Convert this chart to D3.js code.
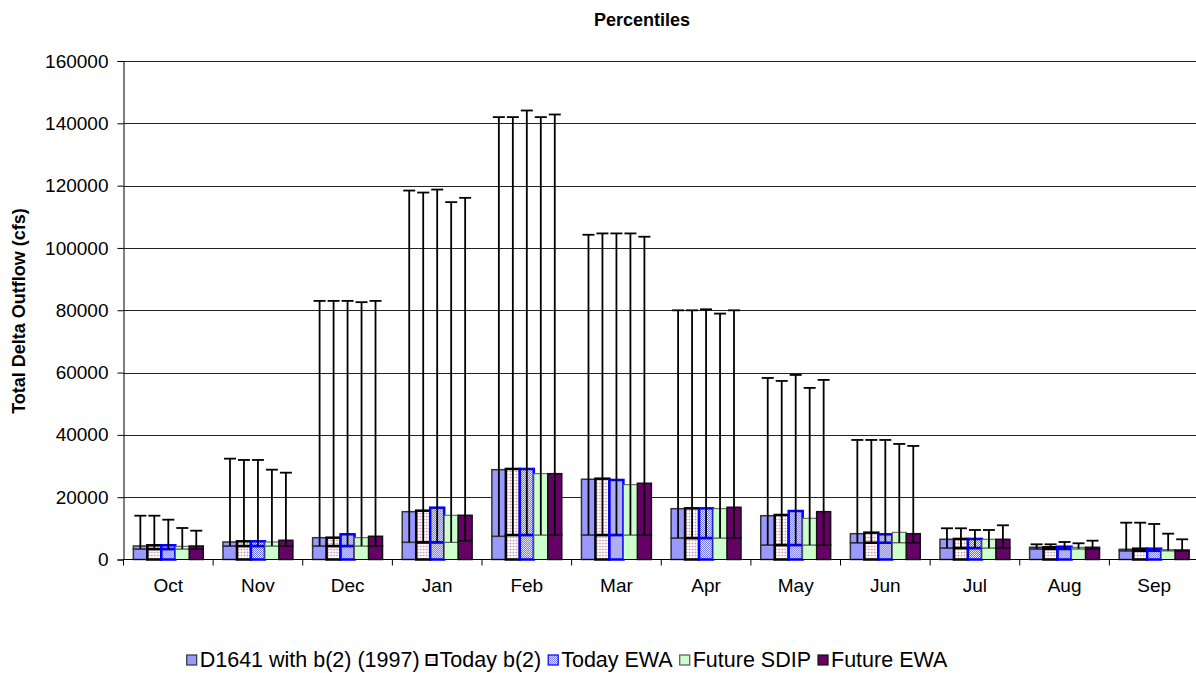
<html>
<head>
    <script src="https://d3js.org/d3.v7.min.js"></script>
    <style>
        body { margin: 0; background: #fff; }
        text { font-family: "Liberation Sans", Arial, sans-serif; fill: #000; }
    </style>
</head>
<body>
<script>
    // months and series
    var months = ["Oct", "Nov", "Dec", "Jan", "Feb", "Mar", "Apr", "May", "Jun", "Jul", "Aug", "Sep"];
    var seriesNames = ["D1641 with b(2) (1997)", "Today b(2)", "Today EWA", "Future SDIP", "Future EWA"];

    // lower percentile (inner line of each bar), one row per series
    var lowPct = [
        [3370, 4335, 4335, 5520, 7450, 7870, 6900, 4660, 5390, 3690, 3400, 2800],
        [3370, 4335, 4335, 5520, 7870, 7870, 6900, 4660, 5390, 3690, 3400, 2800],
        [3370, 4335, 4335, 5520, 7870, 7870, 6900, 4660, 5390, 3690, 3400, 2800],
        [3370, 4335, 4335, 5520, 7870, 7870, 6900, 4660, 5390, 3690, 3400, 2800],
        [3370, 4335, 4335, 6040, 7870, 7870, 6900, 4660, 5390, 3690, 3400, 2800]
    ];
    // middle percentile (top of each bar)
    var midPct = [
        [4335, 5620, 7000, 15350, 28830, 25750, 16310, 14060, 8280, 6490, 3920, 3270],
        [4560, 5840, 7000, 15670, 29060, 25940, 16420, 14290, 8610, 6600, 3920, 3470],
        [4560, 5840, 8090, 16630, 29060, 25530, 16420, 15570, 8090, 6600, 4110, 3470],
        [4240, 5620, 7000, 14190, 27550, 24020, 16310, 13230, 8730, 6490, 3920, 3150],
        [4335, 6165, 7450, 14190, 27550, 24470, 16760, 15350, 8280, 6490, 3920, 3050]
    ];
    // upper percentile (top of the whisker)
    var highPct = [
        [14060, 32370, 83000, 118420, 141990, 104230, 79980, 58270, 38370, 10020, 4880, 11820],
        [14060, 31950, 83000, 117780, 141990, 104660, 79980, 57310, 38370, 10020, 4880, 11820],
        [12780, 31950, 83000, 118740, 144110, 104660, 80300, 59240, 38370, 9470, 5620, 11400],
        [10110, 28830, 82590, 114700, 141990, 104660, 78930, 55070, 37090, 9470, 5200, 8290],
        [9250, 27870, 83000, 116080, 142830, 103600, 79980, 57640, 36450, 10980, 6040, 6480]
    ];
    var yTicks = [0, 20000, 40000, 60000, 80000, 100000, 120000, 140000, 160000];

    var W = 1196, H = 673;
    var plotLeft = 123.5, plotRight = 1199, plotTop = 61, plotBottom = 559.5;
    var fontSize = "19px";

    var svg = d3.select("body").append("svg")
        .attr("width", W).attr("height", H);

    // patterns
    var defs = svg.append("defs");
    var pink = defs.append("pattern").attr("id", "pinkGrid")
        .attr("width", 3).attr("height", 3).attr("patternUnits", "userSpaceOnUse");
    pink.append("rect").attr("width", 3).attr("height", 3).attr("fill", "#fff");
    pink.append("rect").attr("width", 3).attr("height", 1).attr("fill", "#f0dce2");
    pink.append("rect").attr("width", 1).attr("height", 3).attr("fill", "#f0dce2");
    pink.append("rect").attr("width", 1).attr("height", 1).attr("fill", "#c88ca0");

    var check = defs.append("pattern").attr("id", "blueCheck")
        .attr("width", 2).attr("height", 2).attr("patternUnits", "userSpaceOnUse");
    check.append("rect").attr("width", 2).attr("height", 2).attr("fill", "#f4f4ff");
    check.append("rect").attr("x", 1).attr("width", 1).attr("height", 1).attr("fill", "#6a6ae0");
    check.append("rect").attr("y", 1).attr("width", 1).attr("height", 1).attr("fill", "#6a6ae0");

    var fills = ["#9999ff", "url(#pinkGrid)", "url(#blueCheck)", "#ccffcc", "#660066"];
    var strokes = ["#333", "#000", "#0000ff", "#555", "#111"];
    var strokeW = [1.5, 2.5, 2.5, 1, 1.5];

    var x = d3.scaleBand().domain(months).range([plotLeft, plotRight])
        .paddingInner(0.22).paddingOuter(0.11);
    var xs = d3.scaleBand().domain(d3.range(seriesNames.length)).range([0, x.bandwidth()]);
    var y = d3.scaleLinear().domain([0, 160000]).range([plotBottom, plotTop]);

    // gridlines
    svg.append("g").selectAll("line").data(yTicks.slice(1)).enter().append("line")
        .attr("x1", plotLeft).attr("x2", W)
        .attr("y1", function (d) { return Math.round(y(d)) + 0.5; })
        .attr("y2", function (d) { return Math.round(y(d)) + 0.5; })
        .attr("stroke", "#222").attr("stroke-width", 1);

    // y axis
    var yAxis = svg.append("g").attr("transform", "translate(" + plotLeft + ",0)")
        .call(d3.axisLeft(y).tickValues(yTicks).tickSize(6).tickPadding(9).tickFormat(d3.format("d")));
    yAxis.select(".domain").attr("stroke", "#000");
    yAxis.selectAll("line").attr("stroke", "#000");
    yAxis.selectAll("text").style("font-size", fontSize)
        .style("font-family", '"Liberation Sans", Arial, sans-serif');

    // bars
    var groups = svg.append("g").selectAll("g").data(months).enter().append("g")
        .attr("transform", function (m) { return "translate(" + x(m) + ",0)"; });

    seriesNames.forEach(function (s, si) {
        groups.append("rect")
            .attr("x", xs(si)).attr("width", xs.bandwidth())
            .attr("y", function (m, mi) { return y(lowPct[si][mi]); })
            .attr("height", function (m, mi) { return y(0) - y(lowPct[si][mi]); })
            .attr("fill", fills[si]).attr("stroke", strokes[si]).attr("stroke-width", strokeW[si]);
        groups.append("rect")
            .attr("x", xs(si)).attr("width", xs.bandwidth())
            .attr("y", function (m, mi) { return y(midPct[si][mi]); })
            .attr("height", function (m, mi) { return y(lowPct[si][mi]) - y(midPct[si][mi]); })
            .attr("fill", fills[si]).attr("stroke", strokes[si]).attr("stroke-width", strokeW[si]);
    });

    // whiskers
    seriesNames.forEach(function (s, si) {
        var cx = xs(si) + xs.bandwidth() / 2;
        groups.append("line")
            .attr("x1", cx).attr("x2", cx)
            .attr("y1", function (m, mi) { return y(lowPct[si][mi]); })
            .attr("y2", function (m, mi) { return y(highPct[si][mi]); })
            .attr("stroke", "#000").attr("stroke-width", 1.8);
        groups.append("line")
            .attr("x1", cx - 6).attr("x2", cx + 6)
            .attr("y1", function (m, mi) { return y(highPct[si][mi]); })
            .attr("y2", function (m, mi) { return y(highPct[si][mi]); })
            .attr("stroke", "#000").attr("stroke-width", 1.8);
    });

    // x axis
    var step = x.step();
    var x0 = x(months[0]) - step * x.paddingInner() / 2;
    svg.append("line").attr("x1", plotLeft).attr("x2", W)
        .attr("y1", plotBottom).attr("y2", plotBottom).attr("stroke", "#000");
    svg.append("g").selectAll("line").data(d3.range(months.length + 1)).enter().append("line")
        .attr("x1", function (i) { return x0 + i * step; })
        .attr("x2", function (i) { return x0 + i * step; })
        .attr("y1", plotBottom).attr("y2", plotBottom + 6)
        .attr("stroke", "#000");
    svg.append("g").selectAll("text").data(months).enter().append("text")
        .attr("x", function (m) { return x(m) + x.bandwidth() / 2; })
        .attr("y", 592)
        .attr("text-anchor", "middle")
        .style("font-size", fontSize)
        .text(function (m) { return m; });

    // titles
    svg.append("text").attr("x", 642).attr("y", 26).attr("text-anchor", "middle")
        .style("font-size", "18px").style("font-weight", "bold").text("Percentiles");
    svg.append("text").attr("transform", "translate(25,311) rotate(-90)")
        .attr("text-anchor", "middle")
        .style("font-size", "18px").style("font-weight", "bold")
        .text("Total Delta Outflow (cfs)");

    // legend
    var legend = svg.append("g");
    var lx = 0;
    seriesNames.forEach(function (s, si) {
        var item = legend.append("g").attr("transform", "translate(" + lx + ",0)");
        item.append("rect").attr("x", 0).attr("y", -12).attr("width", 10).attr("height", 10)
            .attr("fill", fills[si]).attr("stroke", strokes[si]).attr("stroke-width", si == 1 ? 2 : 1.2);
        var t = item.append("text").attr("x", 13).attr("y", 0).style("font-size", "21.5px").text(s);
        lx += 13 + t.node().getComputedTextLength() + 7;
    });
    legend.attr("transform", "translate(" + (567 - (lx - 7) / 2) + ",667)");
</script>
</body>
</html>
